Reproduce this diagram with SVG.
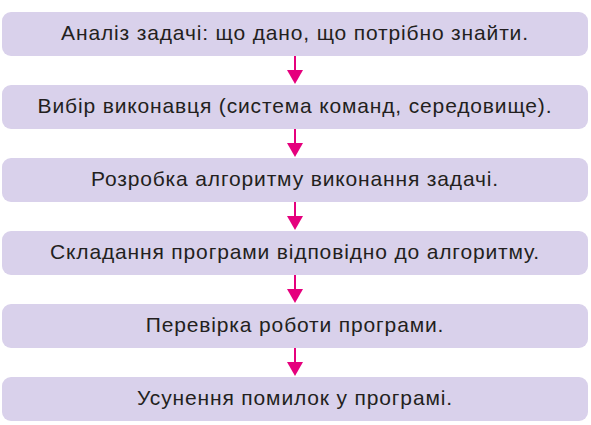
<svg xmlns="http://www.w3.org/2000/svg" width="591" height="425" viewBox="0 0 591 425">
<defs>
<style>
.box{fill:#d9d1eb;}
.t{font-family:"Liberation Sans",Arial,sans-serif;font-size:21px;letter-spacing:0.85px;fill:#231f20;text-anchor:middle;}
.c{stroke:#e5007d;stroke-width:2;fill:none;}
.h{fill:#e5007d;}
</style>
</defs>
<rect width="591" height="425" fill="#ffffff"/>
<g id="connectors">
<line class="c" x1="295" y1="56" x2="295" y2="72"/><polygon class="h" points="287,70 303,70 295,84"/>
<line class="c" x1="295" y1="129" x2="295" y2="145"/><polygon class="h" points="287,143 303,143 295,157"/>
<line class="c" x1="295" y1="202" x2="295" y2="218"/><polygon class="h" points="287,216 303,216 295,230"/>
<line class="c" x1="295" y1="275" x2="295" y2="291"/><polygon class="h" points="287,289 303,289 295,303"/>
<line class="c" x1="295" y1="348" x2="295" y2="364"/><polygon class="h" points="287,362 303,362 295,376"/>
</g>
<g id="n1"><rect class="box" x="2" y="12" width="586" height="44" rx="9"/><text class="t" x="295" y="40">Аналіз задачі: що дано, що потрібно знайти.</text></g>
<g id="n2"><rect class="box" x="2" y="85" width="586" height="44" rx="9"/><text class="t" x="295" y="113">Вибір виконавця (система команд, середовище).</text></g>
<g id="n3"><rect class="box" x="2" y="158" width="586" height="44" rx="9"/><text class="t" x="295" y="186">Розробка алгоритму виконання задачі.</text></g>
<g id="n4"><rect class="box" x="2" y="231" width="586" height="44" rx="9"/><text class="t" x="295" y="259">Складання програми відповідно до алгоритму.</text></g>
<g id="n5"><rect class="box" x="2" y="304" width="586" height="44" rx="9"/><text class="t" x="295" y="332">Перевірка роботи програми.</text></g>
<g id="n6"><rect class="box" x="2" y="377" width="586" height="44" rx="9"/><text class="t" x="295" y="405">Усунення помилок у програмі.</text></g>
</svg>
